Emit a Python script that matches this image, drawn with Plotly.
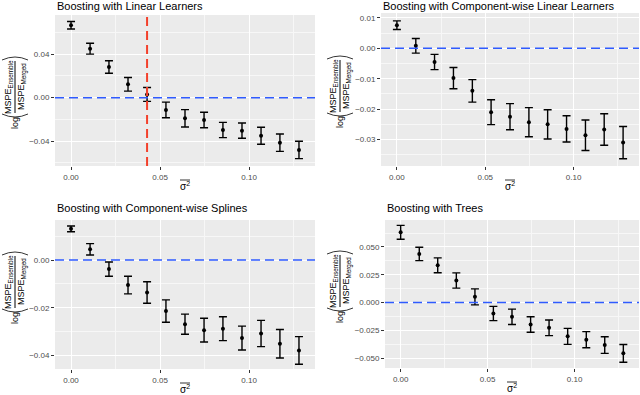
import plotly.graph_objects as go

W, H = 640, 395

# sigma^2 grid shared by every panel
sigma2 = [0.0, 0.0107, 0.0213, 0.032, 0.0427, 0.0533, 0.064, 0.0747,
          0.0853, 0.096, 0.1067, 0.1173, 0.128]

# log(MSPE_Ensemble / MSPE_Merged), mean and half-width of interval
linear_mean = [0.0666, 0.0450, 0.0282, 0.0123, 0.0030, -0.0113, -0.0190,
               -0.0205, -0.0297, -0.0303, -0.0350, -0.0414, -0.0480]
linear_err = [0.0034, 0.0050, 0.0058, 0.0063, 0.0064, 0.0072, 0.0080,
              0.0071, 0.0070, 0.0070, 0.0078, 0.0080, 0.0080]

cw_linear_mean = [0.0076, 0.0008, -0.0045, -0.0098, -0.0140, -0.0210, -0.0225,
                  -0.0243, -0.0250, -0.0265, -0.0286, -0.0267, -0.0310]
cw_linear_err = [0.0014, 0.0024, 0.0025, 0.0035, 0.0037, 0.0041, 0.0043,
                 0.0048, 0.0048, 0.0043, 0.0050, 0.0052, 0.0053]

splines_mean = [0.0131, 0.0045, -0.0038, -0.0105, -0.0136, -0.0214, -0.0269,
                -0.0294, -0.0288, -0.0327, -0.0308, -0.0351, -0.0379]
splines_err = [0.0012, 0.0024, 0.0030, 0.0037, 0.0045, 0.0047, 0.0042,
               0.0050, 0.0050, 0.0050, 0.0055, 0.0060, 0.0058]

trees_mean = [0.0632, 0.0437, 0.0335, 0.0198, 0.0051, -0.0099, -0.0129,
              -0.0198, -0.0228, -0.0305, -0.0335, -0.0383, -0.0458]
trees_err = [0.0063, 0.0060, 0.0067, 0.0069, 0.0072, 0.0064, 0.0069,
             0.0070, 0.0070, 0.0072, 0.0073, 0.0075, 0.0080]

titles = ['Boosting with Linear Learners',
          'Boosting with Component-wise Linear Learners',
          'Boosting with Component-wise Splines',
          'Boosting with Trees']

# vertical reference line (top-left panel only)
cutoff = 0.0427

# panel layout in pixels: left, right, top, bottom; title y; y-title anchor
panels = [
    dict(box=(55, 315, 15, 166), ty=6, yr=(-0.0628, 0.076), dt=0.04, fmt='.2f',
         mean=linear_mean, err=linear_err, yt=(15, 87)),
    dict(box=(381, 639, 13, 166), ty=6, yr=(-0.0387, 0.0116), dt=0.01, fmt='.2f',
         mean=cw_linear_mean, err=cw_linear_err, yt=(340, 86)),
    dict(box=(55, 315, 220, 369), ty=208, yr=(-0.0457, 0.0168), dt=0.02, fmt='.2f',
         mean=splines_mean, err=splines_err, yt=(15, 282)),
    dict(box=(385, 639, 220, 368), ty=208, yr=(-0.059, 0.0743), dt=0.025, fmt='.3f',
         mean=trees_mean, err=trees_err, yt=(340, 281)),
]

FONT = 'Liberation Sans, Arial, sans-serif'
BLUE = '#2F5BFF'
RED = '#F3402B'


def px_x(x):
    return x / W


def px_y(y):
    return 1 - y / H


def paren(xc, y_end, y_tip):
    # rotated parenthesis as a quadratic curve, in paper coords
    return (f'M {px_x(xc - 13)},{px_y(y_end)} '
            f'Q {px_x(xc)},{px_y(2 * y_tip - y_end)} {px_x(xc + 13)},{px_y(y_end)}')


fig = go.Figure()
annotations = []
shapes = []

for i, p in enumerate(panels):
    n = '' if i == 0 else str(i + 1)
    l, r, t, b = p['box']
    fig.add_trace(go.Scatter(
        x=sigma2, y=p['mean'], mode='markers',
        marker=dict(color='black', size=4),
        error_y=dict(type='data', array=p['err'], color='black',
                     thickness=1.4, width=4),
        xaxis='x' + n, yaxis='y' + n, showlegend=False, hoverinfo='skip'))

    fig.update_layout(**{
        'xaxis' + n: dict(
            domain=[px_x(l), px_x(r)], anchor='y' + n,
            range=[-0.009, 0.137], tick0=0, dtick=0.05, tickformat='.2f',
            showgrid=True, gridcolor='white', gridwidth=1.1, zeroline=False,
            ticks='outside', ticklen=3, tickcolor='#333333',
            tickfont=dict(size=8, color='#4D4D4D', family=FONT),
            minor=dict(dtick=0.025, tick0=0, showgrid=True,
                       gridcolor='#F7F7F7', gridwidth=0.6),
        ),
        'yaxis' + n: dict(
            domain=[px_y(b), px_y(t)], anchor='x' + n,
            range=list(p['yr']), tick0=0, dtick=p['dt'], tickformat=p['fmt'],
            showgrid=True, gridcolor='white', gridwidth=1.1, zeroline=False,
            ticks='outside', ticklen=3, tickcolor='#333333',
            tickfont=dict(size=8, color='#4D4D4D', family=FONT),
            minor=dict(dtick=p['dt'] / 2, tick0=0, showgrid=True,
                       gridcolor='#F7F7F7', gridwidth=0.6),
        ),
    })

    # grey panel background
    shapes.append(dict(type='rect', xref='x' + n + ' domain', yref='y' + n + ' domain',
                       x0=0, x1=1, y0=0, y1=1, fillcolor='#EBEBEB',
                       line=dict(width=0), layer='below'))
    # dashed zero line
    shapes.append(dict(type='line', xref='x' + n + ' domain', yref='y' + n,
                       x0=0, x1=1, y0=0, y1=0,
                       line=dict(color=BLUE, width=1.5, dash='9px,5px')))

    # panel title
    annotations.append(dict(text=titles[i], xref='paper', yref='paper',
                            x=px_x(l), y=px_y(p['ty']), xanchor='left', yanchor='middle',
                            showarrow=False, font=dict(size=11, color='black', family=FONT)))
    # x axis title: sigma squared with a bar over it
    cx = (l + r) / 2
    annotations.append(dict(
        text='σ<sup>2</sup>',
        xref='paper', yref='paper', x=px_x(cx), y=px_y(b + 20),
        xanchor='center', yanchor='middle', showarrow=False,
        font=dict(size=10, color='black', family=FONT)))
    shapes.append(dict(type='line', xref='paper', yref='paper',
                       x0=px_x(cx - 5), x1=px_x(cx + 5), y0=px_y(b + 14), y1=px_y(b + 14),
                       line=dict(color='black', width=0.8)))

    # y axis title: log(MSPE_Ensemble / MSPE_Merged), rotated
    xc, yc = p['yt']
    ft = dict(size=9, color='black', family=FONT)
    new = [
        dict(text='MSPE<sub>Ensemble</sub>', x=px_x(xc - 7), y=px_y(yc)),
        dict(text='MSPE<sub>Merged</sub>', x=px_x(xc + 7), y=px_y(yc)),
        dict(text='log', x=px_x(xc), y=px_y(yc + 36)),
    ]
    for a in new:
        a.update(xref='paper', yref='paper', xanchor='center', yanchor='middle',
                 showarrow=False, textangle=-90, font=ft)
    annotations += new
    shapes.append(dict(type='line', xref='paper', yref='paper',
                       x0=px_x(xc), x1=px_x(xc), y0=px_y(yc - 26), y1=px_y(yc + 26),
                       line=dict(color='black', width=1)))
    shapes.append(dict(type='path', xref='paper', yref='paper',
                       path=paren(xc, yc + 27, yc + 30), line=dict(color='black', width=0.8)))
    shapes.append(dict(type='path', xref='paper', yref='paper',
                       path=paren(xc, yc - 27, yc - 30), line=dict(color='black', width=0.8)))

# red dashed vertical line in the first panel
shapes.append(dict(type='line', xref='x', yref='y domain', x0=cutoff, x1=cutoff,
                   y0=0, y1=1, line=dict(color=RED, width=2, dash='9px,5px')))

fig.update_layout(
    width=W, height=H,
    margin=dict(l=0, r=0, t=0, b=0),
    paper_bgcolor='white', plot_bgcolor='rgba(0,0,0,0)',
    annotations=annotations, shapes=shapes,
    font=dict(family=FONT),
)

fig.write_html('out.html', config={'displayModeBar': False},
               post_script="document.body.style.margin = '0';")
